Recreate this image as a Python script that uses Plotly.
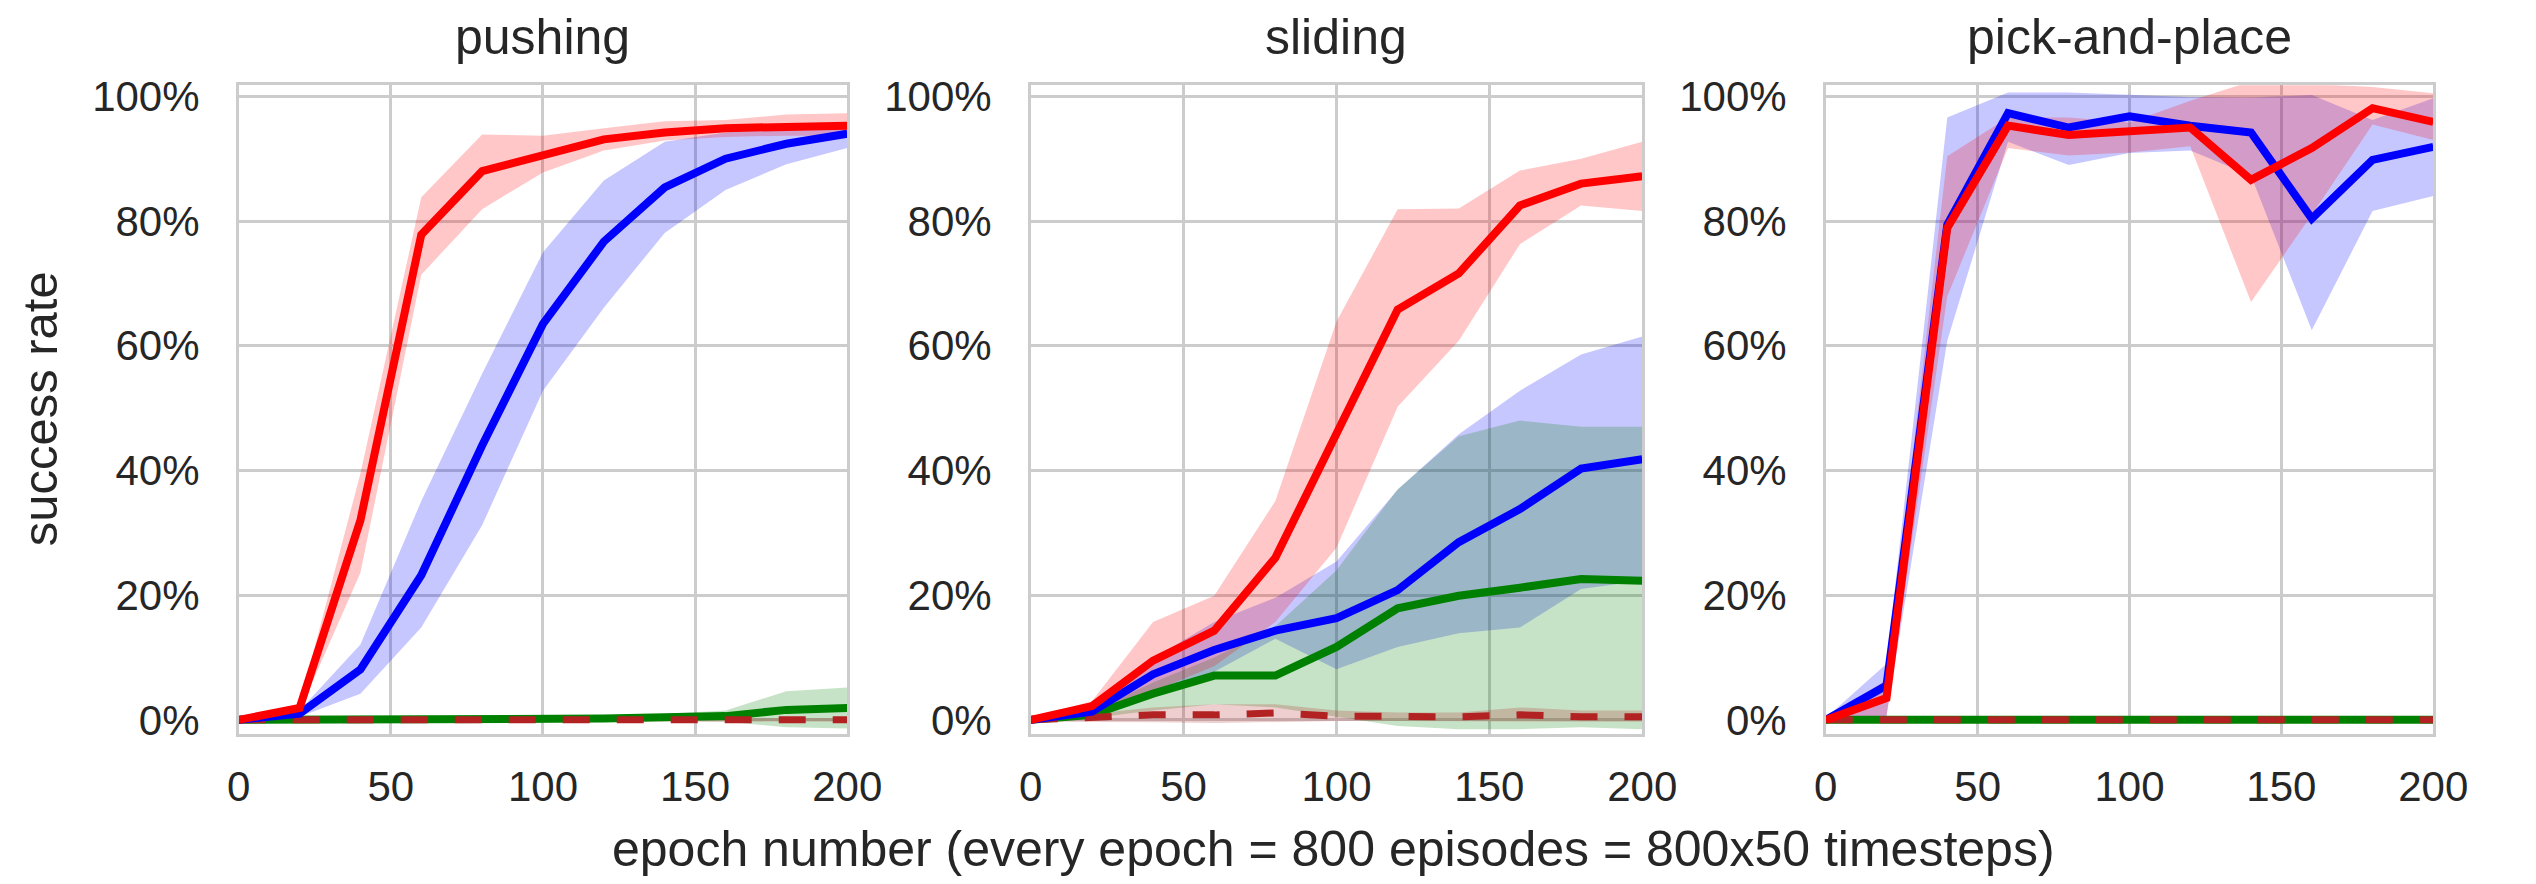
import plotly.graph_objects as go

# Training epochs at which success rate was evaluated
epochs = [0, 20, 40, 60, 80, 100, 120, 140, 160, 180, 200]

# ---- pushing ----
push_red = [0, 1.9, 32, 77.8, 88, 90.7, 93.1, 94.2, 94.9, 95.1, 95.3]
push_red_lo = [-0.3, 1.4, 23.6, 71.4, 81.9, 87.8, 91.3, 92.9, 93.5, 93.7, 93.7]
push_red_hi = [0.3, 2.5, 39.5, 83.8, 93.9, 93.7, 94.9, 96.0, 96.2, 97.1, 97.3]
push_blue = [0, 1.0, 8.1, 23.2, 44, 63.5, 76.7, 85.4, 90, 92.4, 94]
push_blue_lo = [-0.3, 0.5, 4.2, 14.8, 31.2, 52.8, 66.1, 78.1, 85, 89.1, 91.7]
push_blue_hi = [0.3, 1.5, 12.1, 35.1, 55.5, 75, 86.5, 92.7, 94.2, 95.1, 95.8]
push_green = [0, 0, 0.1, 0.1, 0.2, 0.1, 0.2, 0.4, 0.6, 1.6, 1.9]
push_green_lo = [0, -0.1, -0.1, -0.1, -0.1, -0.1, -0.1, -0.2, -0.3, -1.2, -1.4]
push_green_hi = [0, 0.1, 0.3, 0.3, 0.5, 0.3, 0.5, 1.0, 1.5, 4.6, 5.2]
push_brown = [0, 0, 0, 0, 0, 0, 0, 0, 0, 0, 0]
push_brown_lo = [0, -0.2, -0.2, -0.2, -0.2, -0.2, -0.2, -0.3, -0.3, -0.3, -0.3]
push_brown_hi = [0, 0.2, 0.2, 0.2, 0.2, 0.2, 0.2, 0.3, 0.3, 0.3, 0.3]

# ---- sliding ----
slide_red = [0, 2.2, 9.5, 14.3, 26, 45.8, 65.8, 71.6, 82.5, 86, 87.2]
slide_red_lo = [-0.3, 1.5, 4.6, 8.6, 15.7, 27.6, 50.2, 60.8, 76.3, 82.5, 81.6]
slide_red_hi = [0.3, 3.0, 15.7, 19.9, 35.1, 63.9, 81.9, 82.0, 88.1, 90.0, 92.7]
slide_blue = [0, 1.3, 7.3, 11.2, 14.3, 16.3, 20.8, 28.5, 33.8, 40.3, 41.8]
slide_blue_lo = [-0.3, 0.8, 4.2, 7.7, 13.0, 8.1, 11.7, 13.9, 14.8, 21.0, 22.3]
slide_blue_hi = [0.3, 1.8, 9.9, 15.7, 19.6, 25.4, 36.9, 45.8, 52.8, 58.6, 61.5]
slide_green = [0, 0.8, 4.2, 7.1, 7.1, 11.7, 17.9, 19.9, 21.2, 22.6, 22.3]
slide_green_lo = [-0.3, 0.3, 1.5, 2.5, 2.0, 0.5, -1.0, -1.5, -1.5, -1.2, -1.5]
slide_green_hi = [0.3, 1.3, 6.0, 10.0, 15.0, 24.0, 37.0, 45.5, 48.0, 47.0, 47.0]
slide_brown = [0, 0.3, 0.8, 0.8, 1.1, 0.6, 0.6, 0.5, 0.8, 0.5, 0.5]
slide_brown_lo = [-0.3, -0.3, -0.4, -0.5, -0.3, -0.2, -0.2, -0.2, -0.3, -0.3, -0.3]
slide_brown_hi = [0.3, 1.0, 2.0, 2.5, 2.5, 1.5, 1.2, 1.2, 2.0, 1.5, 1.5]

# ---- pick-and-place ----
pnp_red = [0, 3.5, 78.9, 95.3, 93.8, 94.4, 95.0, 86.6, 91.7, 98.1, 95.9]
pnp_red_lo = [-0.3, 0.6, 67.9, 91.7, 90.5, 91.0, 92.0, 67.0, 81.0, 95.5, 93.0]
pnp_red_hi = [0.3, 6.4, 90.4, 96.6, 96.6, 95.8, 99.3, 102.4, 102.0, 101.5, 100.5]
pnp_blue = [0, 5.5, 79.4, 97.3, 95.0, 96.8, 95.3, 94.2, 80.4, 89.8, 91.9]
pnp_blue_lo = [-0.3, 0.6, 60.8, 92.7, 89.0, 90.9, 91.3, 87.3, 62.5, 81.6, 84.0]
pnp_blue_hi = [0.3, 9.0, 96.6, 100.6, 100.6, 100.2, 99.9, 99.8, 100.2, 96.2, 99.7]
pnp_green = [0, 0, 0, 0, 0, 0, 0, 0, 0, 0, 0]
pnp_green_lo = [0, 0, 0, 0, 0, 0, 0, 0, 0, 0, 0]
pnp_green_hi = [0, 0, 0, 0, 0, 0, 0, 0, 0, 0, 0]
pnp_brown = [0, 0, 0, 0, 0, 0, 0, 0, 0, 0, 0]
pnp_brown_lo = [0, 0, 0, 0, 0, 0, 0, 0, 0, 0, 0]
pnp_brown_hi = [0, 0, 0, 0, 0, 0, 0, 0, 0, 0, 0]

panel_titles = ["pushing", "sliding", "pick-and-place"]
x_ticks = [0, 50, 100, 150, 200]
y_ticks = [0, 20, 40, 60, 80, 100]
y_tick_labels = ["0%", "20%", "40%", "60%", "80%", "100%"]
y_label = "success rate"
x_label = "epoch number (every epoch = 800 episodes = 800x50 timesteps)"

panels = [
    {
        "green": (push_green, push_green_lo, push_green_hi),
        "brown": (push_brown, push_brown_lo, push_brown_hi),
        "blue": (push_blue, push_blue_lo, push_blue_hi),
        "red": (push_red, push_red_lo, push_red_hi),
    },
    {
        "green": (slide_green, slide_green_lo, slide_green_hi),
        "brown": (slide_brown, slide_brown_lo, slide_brown_hi),
        "blue": (slide_blue, slide_blue_lo, slide_blue_hi),
        "red": (slide_red, slide_red_lo, slide_red_hi),
    },
    {
        "green": (pnp_green, pnp_green_lo, pnp_green_hi),
        "brown": (pnp_brown, pnp_brown_lo, pnp_brown_hi),
        "blue": (pnp_blue, pnp_blue_lo, pnp_blue_hi),
        "red": (pnp_red, pnp_red_lo, pnp_red_hi),
    },
]

line_colors = {"green": "#008000", "brown": "#b22222", "blue": "#0000ff", "red": "#ff0000"}
band_colors = {
    "green": "rgba(0,128,0,0.22)",
    "brown": "rgba(178,34,34,0.22)",
    "blue": "rgba(0,0,255,0.22)",
    "red": "rgba(255,0,0,0.22)",
}
band_order = ["blue", "green", "brown", "red"]
line_order = ["green", "brown", "blue", "red"]

W, H = 2536, 884
x_domains = [(231, 851), (1038, 1661), (1848, 2467)]
y_top, y_bottom = 75, 740

FONT = "Liberation Sans, Arial, Helvetica, sans-serif"
TEXT = "#262626"
GRID = "#cccccc"

fig = go.Figure()

for i, panel in enumerate(panels):
    sfx = "" if i == 0 else str(i + 1)
    xa, ya = "x" + sfx, "y" + sfx
    for key in band_order:
        _, lo, hi = panel[key]
        fig.add_trace(go.Scatter(x=epochs, y=lo, mode="lines", line=dict(width=0),
                                 xaxis=xa, yaxis=ya, showlegend=False, hoverinfo="skip"))
        fig.add_trace(go.Scatter(x=epochs, y=hi, mode="lines", line=dict(width=0),
                                 fill="tonexty", fillcolor=band_colors[key],
                                 xaxis=xa, yaxis=ya, showlegend=False, hoverinfo="skip"))
    for key in line_order:
        mean, _, _ = panel[key]
        line = dict(color=line_colors[key], width=8)
        if key == "brown":
            line["dash"] = "27px,27px"
            line["width"] = 7
        fig.add_trace(go.Scatter(x=epochs, y=mean, mode="lines", line=line,
                                 xaxis=xa, yaxis=ya, showlegend=False, hoverinfo="skip"))

layout = dict(
    width=W, height=H,
    margin=dict(l=0, r=0, t=0, b=0),
    paper_bgcolor="white", plot_bgcolor="white",
    font=dict(family=FONT, color=TEXT),
    showlegend=False,
)

annotations = []
for i, (x0, x1) in enumerate(x_domains):
    sfx = "" if i == 0 else str(i + 1)
    layout["xaxis" + sfx] = dict(
        domain=[x0 / W, x1 / W], anchor="y" + sfx, range=[0, 200],
        tickvals=x_ticks, ticks="", showgrid=True, gridcolor=GRID, gridwidth=2.5,
        showline=True, linecolor=GRID, linewidth=2.5, mirror=True, zeroline=False,
        tickfont=dict(size=42, color=TEXT, family=FONT), ticklabelstandoff=14,
    )
    layout["yaxis" + sfx] = dict(
        domain=[1 - y_bottom / H, 1 - y_top / H], anchor="x" + sfx, range=[-2.2, 101.8],
        tickvals=y_ticks, ticktext=y_tick_labels, ticks="", showgrid=True,
        gridcolor=GRID, gridwidth=2.5, showline=True, linecolor=GRID, linewidth=2.5,
        mirror=True, zeroline=False, tickfont=dict(size=42, color=TEXT, family=FONT),
        ticklabelstandoff=28,
    )
    annotations.append(dict(
        text=panel_titles[i], xref="paper", yref="paper",
        x=(x0 + x1) / 2 / W, y=1 - 26 / H, xanchor="center", yanchor="middle",
        showarrow=False, font=dict(size=50, color=TEXT, family=FONT),
    ))

annotations.append(dict(
    text=y_label, xref="paper", yref="paper", x=28 / W, y=1 - 407 / H,
    xanchor="center", yanchor="middle", textangle=-90, showarrow=False,
    font=dict(size=49, color=TEXT, family=FONT),
))
annotations.append(dict(
    text=x_label, xref="paper", yref="paper", x=1346 / W, y=1 - 858 / H,
    xanchor="center", yanchor="middle", showarrow=False,
    font=dict(size=50, color=TEXT, family=FONT),
))
layout["annotations"] = annotations

fig.update_layout(**layout)
fig.write_html("out.html")
